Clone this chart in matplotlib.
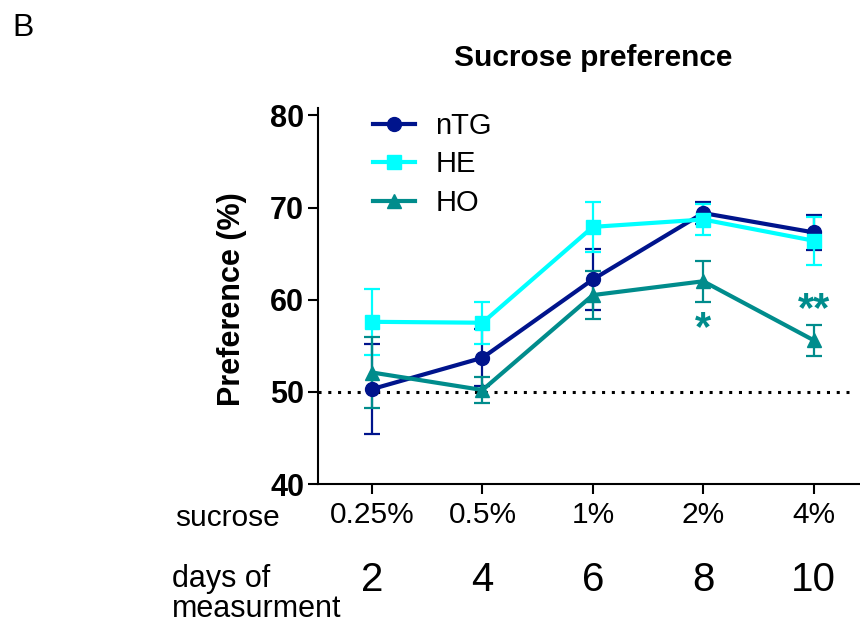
import numpy as np
import matplotlib.pyplot as plt
from matplotlib.lines import Line2D

plt.rcParams['font.family'] = ['Liberation Sans', 'DejaVu Sans']

# data
sucrose = ['0.25%', '0.5%', '1%', '2%', '4%']
days = ['2', '4', '6', '8', '10']

ntg_mean = [50.3, 53.7, 62.2, 69.4, 67.3]
ntg_sem = [4.9, 3.1, 3.3, 1.2, 1.9]
he_mean = [57.6, 57.5, 67.9, 68.7, 66.4]
he_sem = [3.6, 2.3, 2.7, 1.7, 2.6]
ho_mean = [52.1, 50.2, 60.5, 62.0, 55.6]
ho_sem = [3.9, 1.4, 2.6, 2.2, 1.7]

stars = {3: '*', 4: '**'}
star_y = [None, None, None, 56.8, 58.9]

navy = '#00148c'
cyan = '#00ffff'
teal = '#008c8c'

fig = plt.figure(figsize=(8.6, 6.26), dpi=100)
ax = fig.add_axes([0.3698, 0.2268, 0.6302, 0.6007])

x = np.arange(len(sucrose))

ax.axhline(50, color='black', linestyle=(0, (1, 2.2)), lw=2.2, xmin=0, xmax=0.98, zorder=1)

series = [
    ('nTG', ntg_mean, ntg_sem, navy, 'o'),
    ('HE', he_mean, he_sem, cyan, 's'),
    ('HO', ho_mean, ho_sem, teal, '^'),
]
handles = []
for name, m, s, c, mk in series:
    ax.errorbar(x, m, yerr=s, color=c, marker=mk, markersize=10, lw=3,
                elinewidth=1.6, capsize=5.5, capthick=1.6, zorder=3)
    handles.append(Line2D([], [], color=c, marker=mk, markersize=10, lw=3, label=name))

for i, txt in stars.items():
    ax.text(x[i], star_y[i], txt, color=teal, fontsize=30, fontweight='bold',
            ha='center', va='center')

ax.set_xlim(-0.49, 4.42)
ax.set_ylim(40, 80.8)
ax.set_yticks([40, 50, 60, 70, 80])
ax.set_xticks(x)
ax.set_xticklabels(sucrose, fontsize=21.5)
for lab in ax.get_yticklabels():
    lab.set_fontweight('bold')
    lab.set_fontsize(22)
ax.tick_params(axis='both', direction='out', length=7, width=1.5)
ax.tick_params(axis='x', pad=5)
ax.tick_params(axis='y', pad=3)
ax.set_ylabel('Preference (%)', fontsize=22, fontweight='bold')
ax.yaxis.set_label_coords(-0.131, 0.492)

for side in ['top', 'right']:
    ax.spines[side].set_visible(False)
for side in ['left', 'bottom']:
    ax.spines[side].set_linewidth(1.5)

leg = ax.legend(handles=handles, loc='upper left', bbox_to_anchor=(0.101, 0.99),
                frameon=False, fontsize=21, handlelength=1.45, handletextpad=0.7,
                labelspacing=0.36, borderaxespad=0, borderpad=0)

# days row, placed under each category
for xi, d in zip(x, days):
    ax.text(xi, -0.255, d, transform=ax.get_xaxis_transform(), fontsize=29,
            ha='center', va='center')

fig.text(0.204, 1 - 518 / 626, 'sucrose', fontsize=21.5, ha='left', va='center')
fig.text(0.2, 1 - 594 / 626, 'days of\nmeasurment', fontsize=22, ha='left',
         va='center', linespacing=1.03)

fig.text(0.69, 1 - 58 / 626, 'Sucrose preference', fontsize=21.5, fontweight='bold',
         ha='center', va='center')
fig.text(0.014, 1 - 28 / 626, 'B', fontsize=23, ha='left', va='center')

fig.savefig('out.png', dpi=100)
